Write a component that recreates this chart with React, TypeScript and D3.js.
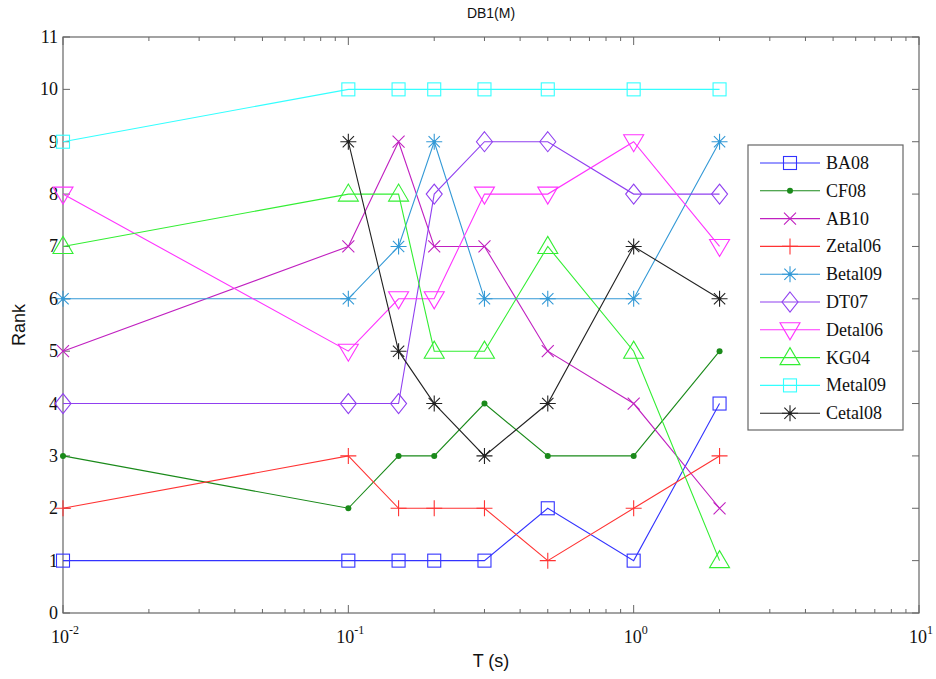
import React from "react";
import * as d3 from "d3";

const periods = [0.01, 0.1, 0.15, 0.2, 0.3, 0.5, 1, 2];
const seriesNames = ["BA08", "CF08", "AB10", "Zetal06", "Betal09", "DT07", "Detal06", "KG04", "Metal09", "Cetal08"];
const BA08 = [1, 1, 1, 1, 1, 2, 1, 4];
const CF08 = [3, 2, 3, 3, 4, 3, 3, 5];
const AB10 = [5, 7, 9, 7, 7, 5, 4, 2];
const Zetal06 = [2, 3, 2, 2, 2, 1, 2, 3];
const Betal09 = [6, 6, 7, 9, 6, 6, 6, 9];
const DT07 = [4, 4, 4, 8, 9, 9, 8, 8];
const Detal06 = [8, 5, 6, 6, 8, 8, 9, 7];
const KG04 = [7, 8, 8, 5, 5, 7, 5, 1];
const Metal09 = [9, 10, 10, 10, 10, 10, 10, 10];
const Cetal08 = [null, 9, 5, 4, 3, 4, 7, 6];
const seriesValues = [BA08, CF08, AB10, Zetal06, Betal09, DT07, Detal06, KG04, Metal09, Cetal08];
const seriesColors = ["#3333ff", "#1a8a1a", "#c020c0", "#ff3333", "#3399d6", "#9040f0", "#ff33ff", "#33ee33", "#33ffff", "#222222"];
const seriesMarkers = ["square", "dot", "x", "plus", "star", "diamond", "tridown", "triup", "square", "star"];
const yTicks = [0, 1, 2, 3, 4, 5, 6, 7, 8, 9, 10, 11];
const xDecades = [-2, -1, 0, 1];

function Marker({ type, x, y, color }: { type: string; x: number; y: number; color: string }) {
  const sw = 1.1;
  switch (type) {
    case "square":
      return <rect x={x - 6.5} y={y - 6.5} width={13} height={13} fill="none" stroke={color} strokeWidth={sw} />;
    case "dot":
      return <circle cx={x} cy={y} r={3} fill={color} />;
    case "x":
      return <path d={`M${x - 6},${y - 6}L${x + 6},${y + 6}M${x - 6},${y + 6}L${x + 6},${y - 6}`} stroke={color} strokeWidth={sw} />;
    case "plus":
      return <path d={`M${x - 8},${y}L${x + 8},${y}M${x},${y - 8}L${x},${y + 8}`} stroke={color} strokeWidth={sw} />;
    case "star": {
      const r = 8;
      const d = r * 0.7071;
      return (
        <g>
          <path d={`M${x - r},${y}L${x + r},${y}M${x},${y - r}L${x},${y + r}M${x - d},${y - d}L${x + d},${y + d}M${x - d},${y + d}L${x + d},${y - d}`} stroke={color} strokeWidth={sw} />
          <circle cx={x} cy={y} r={1.8} fill={color} />
        </g>
      );
    }
    case "diamond":
      return <path d={`M${x},${y - 10}L${x + 8},${y}L${x},${y + 10}L${x - 8},${y}Z`} fill="none" stroke={color} strokeWidth={sw} />;
    case "tridown":
      return <path d={`M${x - 10},${y - 7}L${x + 10},${y - 7}L${x},${y + 10}Z`} fill="none" stroke={color} strokeWidth={sw} />;
    case "triup":
      return <path d={`M${x - 10},${y + 7}L${x + 10},${y + 7}L${x},${y - 10}Z`} fill="none" stroke={color} strokeWidth={sw} />;
    default:
      return null;
  }
}

export default function App() {
  const W = 936, H = 679;
  const left = 63, right = 919, top = 37, bottom = 613;
  const x = d3.scaleLog().domain([0.01, 10]).range([left, right]);
  const y = d3.scaleLinear().domain([0, 11]).range([bottom, top]);
  const axisColor = "#666";
  const serif = "'Liberation Serif', 'Times New Roman', serif";
  const sans = "'Liberation Sans', Arial, sans-serif";

  const minor: number[] = [];
  for (let e = -2; e < 1; e++) {
    for (let k = 2; k <= 9; k++) minor.push(k * Math.pow(10, e));
  }

  const line = d3
    .line<[number, number | null]>()
    .defined((d) => d[1] != null)
    .x((d) => x(d[0]))
    .y((d) => y(d[1] as number));

  const legX = 748, legY = 145, legW = 155, legH = 285;
  const legStep = 27.8;

  return (
    <svg width={W} height={H} style={{ position: "absolute", left: 0, top: 0, background: "#fff" }}>
      <rect x={0} y={0} width={W} height={H} fill="#fff" />
      <text x={(left + right) / 2} y={18} textAnchor="middle" fontFamily={sans} fontSize={14} fill="#111">DB1(M)</text>

      {/* axes box */}
      <rect x={left} y={top} width={right - left} height={bottom - top} fill="none" stroke={axisColor} strokeWidth={1.2} />

      {/* y ticks */}
      {yTicks.map((t) => (
        <g key={"y" + t}>
          <line x1={left} x2={left + 7} y1={y(t)} y2={y(t)} stroke={axisColor} />
          <line x1={right} x2={right - 7} y1={y(t)} y2={y(t)} stroke={axisColor} />
          <text x={left - 5} y={y(t) + 6} textAnchor="end" fontFamily={serif} fontSize={18} fill="#111">{t}</text>
        </g>
      ))}

      {/* x ticks */}
      {xDecades.map((e) => {
        const v = Math.pow(10, e);
        return (
          <g key={"xd" + e}>
            <line x1={x(v)} x2={x(v)} y1={bottom} y2={bottom - 8} stroke={axisColor} />
            <line x1={x(v)} x2={x(v)} y1={top} y2={top + 8} stroke={axisColor} />
            <text x={x(v) + 2} y={bottom + 30} textAnchor="middle" fontFamily={serif} fontSize={18} fill="#111">
              10
              <tspan dy={-9} fontSize={12}>{e}</tspan>
            </text>
          </g>
        );
      })}
      {minor.map((v, i) => (
        <g key={"xm" + i}>
          <line x1={x(v)} x2={x(v)} y1={bottom} y2={bottom - 4} stroke={axisColor} />
          <line x1={x(v)} x2={x(v)} y1={top} y2={top + 4} stroke={axisColor} />
        </g>
      ))}

      <text x={(left + right) / 2} y={667} textAnchor="middle" fontFamily={sans} fontSize={18} fill="#111">T (s)</text>
      <text transform={`translate(25,${(top + bottom) / 2}) rotate(-90)`} textAnchor="middle" fontFamily={sans} fontSize={18} fill="#111">Rank</text>

      {/* series */}
      {seriesValues.map((vals, si) => {
        const pts = periods.map((p, i) => [p, vals[i]] as [number, number | null]);
        return (
          <g key={seriesNames[si]}>
            <path d={line(pts) || ""} fill="none" stroke={seriesColors[si]} strokeWidth={1.1} />
            {pts
              .filter((d) => d[1] != null)
              .map((d, i) => (
                <Marker key={i} type={seriesMarkers[si]} x={x(d[0])} y={y(d[1] as number)} color={seriesColors[si]} />
              ))}
          </g>
        );
      })}

      {/* legend */}
      <rect x={legX} y={legY} width={legW} height={legH} fill="#fff" stroke={axisColor} strokeWidth={1.2} />
      {seriesNames.map((n, i) => {
        const ly = legY + 18 + i * legStep;
        return (
          <g key={"leg" + n}>
            <line x1={legX + 12} x2={legX + 72} y1={ly} y2={ly} stroke={seriesColors[i]} strokeWidth={1.1} />
            <Marker type={seriesMarkers[i]} x={legX + 42} y={ly} color={seriesColors[i]} />
            <text x={legX + 78} y={ly + 6} fontFamily={serif} fontSize={18} fill="#111">{n}</text>
          </g>
        );
      })}
    </svg>
  );
}
